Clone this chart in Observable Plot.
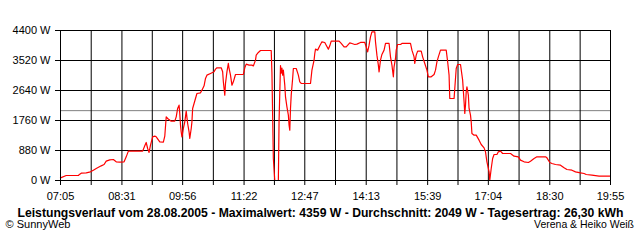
<!DOCTYPE html>
<html>
<head>
<meta charset="utf-8">
<script src="https://cdn.jsdelivr.net/npm/d3@7"></script>
<script src="https://cdn.jsdelivr.net/npm/@observablehq/plot@0.6"></script>
<style>
  html, body { margin: 0; padding: 0; background: white; }
</style>
</head>
<body>
<div id="chart"></div>
<script>
// minutes after 07:05
const minutes = [0,8,25,27,29,36,42,46,50,57,61,64,69,74,78,83,89,92,95,115,118,120,122,124,126,129,132,134,139,144,146,148,150,155,160,162,164,166,167,168,169,170,172,174,176,178,180,181,183,184,185,187,189,191,196,198,201,203,205,210,215,217,219,225,227,228,230,231,233,235,236,238,240,242,245,256,258,260,264,268,270,273,274,277,280,295,296,297,298,300,305,306,308,309,310,311,312,314,315,317,319,320,321,322,323,325,326,330,333,335,337,350,352,355,356,357,360,363,366,370,372,375,377,379,390,393,397,400,405,408,412,415,420,426,428,430,432,434,436,440,441,443,445,446,448,450,453,455,460,462,464,466,467,469,470,472,476,478,490,492,495,496,498,500,505,507,510,513,515,519,523,525,527,529,532,540,542,544,545,551,552,554,556,560,563,565,566,567,568,569,571,572,574,575,576,579,582,586,589,593,595,597,600,601,603,605,607,611,613,616,619,630,635,641,644,649,655,658,663,667,679,681,685,688,693,700,705,709,716,721,728,733,736,744,754,770];
const watts = [78,147,147,186,215,225,254,303,352,430,469,567,606,616,548,538,548,694,861,861,1017,1115,939,822,1037,1281,1301,1281,1135,1125,1300,1868,1819,1741,1741,1868,2113,2210,1966,1623,1428,1281,1526,1721,2034,1672,1428,1232,1526,1721,2113,2259,2406,2553,2572,2650,2777,2993,3090,3139,3188,3267,3306,3306,3188,2895,2504,2846,3188,3433,3286,3090,2797,2895,3110,3110,3306,3413,3384,3384,3360,3531,3677,3755,3813,3813,3177,1907,636,0,0,1760,3373,3150,3300,3090,3237,2797,2455,2161,1917,1623,1477,2113,2504,2993,3286,3286,3090,2895,2846,2846,3237,3531,3726,3853,3824,3951,4068,4049,3970,3853,3951,4088,4088,4020,3921,3921,4039,4020,3990,4000,4049,4049,3921,3775,3970,4215,4359,4359,4068,3677,3384,3188,3531,3697,3824,4020,4020,3628,3384,3042,3335,3580,3824,3990,3990,4020,4020,3824,3628,3433,3677,3795,3795,3628,3433,3237,3042,3042,3110,3237,3482,3628,3824,3824,3482,3090,2406,2406,2700,3286,3403,3403,2944,2308,1966,2210,2601,2748,2504,2113,1917,1721,1379,1330,1330,1183,1056,958,841,548,254,10,352,645,763,763,841,861,792,792,714,694,597,548,528,567,645,694,694,665,528,499,469,450,372,323,303,254,225,205,176,156,127,127];

const timeLabels = ["07:05","08:31","09:56","11:22","12:47","14:13","15:39","17:04","18:30","19:55"];
const yTicks = [0, 880, 1760, 2640, 3520, 4400];
const average = 2049;
const footer = "Leistungsverlauf vom 28.08.2005 - Maximalwert: 4359 W - Durchschnitt: 2049 W - Tagesertrag: 26,30 kWh";
const copyright = "© SunnyWeb";
const authors = "Verena & Heiko Weiß";

const toMin = s => { const [h, m] = s.split(":").map(Number); return h * 60 + m; };
const start = toMin(timeLabels[0]);
const labelTicks = timeLabels.map(s => toMin(s) - start);
const gridX = [];
labelTicks.forEach((t, i) => {
  gridX.push(t);
  if (i < labelTicks.length - 1) gridX.push((t + labelTicks[i + 1]) / 2);
});
const labelAt = new Map(labelTicks.map((t, i) => [t, timeLabels[i]]));
const data = minutes.map((t, i) => ({t, w: watts[i]}));

const svg = Plot.plot({
  width: 640,
  height: 240,
  marginLeft: 60,
  marginRight: 30,
  marginTop: 30,
  marginBottom: 60,
  style: {fontFamily: "'Liberation Sans', Arial, sans-serif", fontSize: "11px", background: "white", color: "black"},
  x: {domain: [0, labelTicks[labelTicks.length - 1]]},
  y: {domain: [0, 4400]},
  marks: [
    Plot.ruleY([average], {stroke: "#808080", strokeWidth: 1}),
    Plot.ruleY(yTicks, {stroke: "black", strokeWidth: 1}),
    Plot.ruleX(gridX, {stroke: "black", strokeWidth: 1}),
    Plot.axisX({ticks: gridX, tickSize: 5, tickPadding: 7, label: null, stroke: "black", tickFormat: d => labelAt.get(d) ?? ""}),
    Plot.axisY({ticks: yTicks, tickSize: 5, tickPadding: 5, label: null, stroke: "black", tickFormat: d => `${d} W`}),
    Plot.line(data, {x: "t", y: "w", stroke: "#ff0000", strokeWidth: 1.2}),
    Plot.frame({stroke: "black"}),
    Plot.text([footer], {text: d => d, frameAnchor: "bottom-left", textAnchor: "start", dx: -43, dy: 36, fontWeight: "bold", fontSize: 12, fill: "black"}),
    Plot.text([copyright], {text: d => d, frameAnchor: "bottom-left", textAnchor: "start", dx: -55, dy: 47.5, fontSize: 11, fill: "black"}),
    Plot.text([authors], {text: d => d, frameAnchor: "bottom-right", textAnchor: "end", dx: 23.5, dy: 47.5, fontSize: 11, fill: "black"})
  ]
});

const lengths = new Map([[footer, 606], [copyright, 65], [authors, 100]]);
svg.querySelectorAll("text").forEach(el => {
  const L = lengths.get(el.textContent);
  if (L) { el.setAttribute("textLength", L); el.setAttribute("lengthAdjust", "spacingAndGlyphs"); }
});

document.getElementById("chart").appendChild(svg);
</script>
</body>
</html>
